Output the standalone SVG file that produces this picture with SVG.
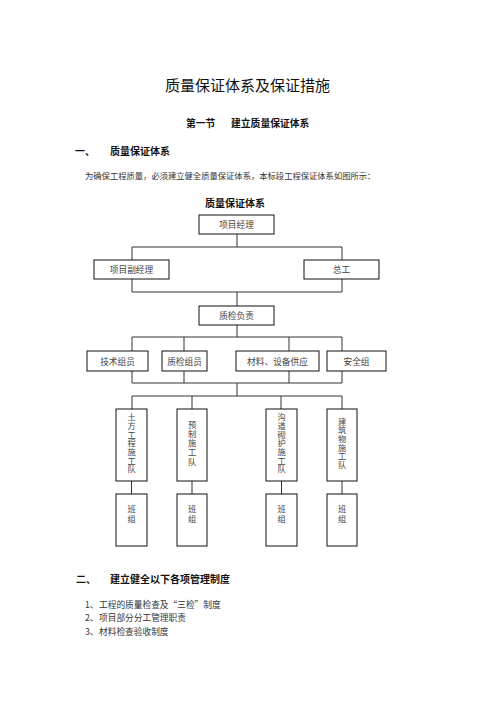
<svg xmlns="http://www.w3.org/2000/svg" width="496" height="702" viewBox="0 0 496 702">
<style>
text{font-family:"Noto Sans CJK SC","Noto Sans",sans-serif;dominant-baseline:central}
.h{fill:#111}
.b{font-weight:bold;fill:#111}
.p{fill:#333;font-size:8.3px}
.bx{fill:#fff;stroke:#111;stroke-width:1}
.t{fill:#444;font-size:8.7px;text-anchor:middle}
.v{fill:#444;font-size:8.2px;writing-mode:vertical-rl;text-anchor:start}
.l{fill:none;stroke:#333;stroke-width:1}
.li{fill:#333;font-size:8.7px}
</style>
<rect width="496" height="702" fill="#fff"/>
<text class="h" x="247.5" y="84" font-size="15" text-anchor="middle">质量保证体系及保证措施</text>
<text class="b" x="186" y="123" font-size="9.8">第一节</text>
<text class="b" x="231" y="123" font-size="9.8">建立质量保证体系</text>
<text class="b" x="75" y="150" font-size="10">一、</text>
<text class="b" x="110" y="150" font-size="10" font-weight="normal">质量保证体系</text>
<text class="p" x="85" y="175">为确保工程质量，必须建立健全质量保证体系，本标段工程保证体系如图所示：</text>
<text class="b" x="235" y="202" font-size="10" text-anchor="middle">质量保证体系</text>

<g id="connectors">
<path class="l" d="M237 234V247M132 247H342V292H132Z"/>
<path class="l" d="M237 292V306M237 325V337"/>
<path class="l" d="M132 337H342V383H132ZM184 337V383M289 337V383"/>
<path class="l" d="M237 383V396M132 396H342M132 396V409M192 396V409M281 396V409M342 396V409"/>
<path class="l" d="M131.5 481V494M192 481V494M281.5 481V494M342 481V494"/>
</g>

<g id="n-pm"><rect class="bx" x="199" y="215" width="75" height="19"/><text class="t" x="236.5" y="224.5">项目经理</text></g>
<g id="n-dpm"><rect class="bx" x="94" y="260" width="75" height="19"/><text class="t" x="131.5" y="269.5">项目副经理</text></g>
<g id="n-ce"><rect class="bx" x="304" y="260" width="75" height="19"/><text class="t" x="341.5" y="269.5">总工</text></g>
<g id="n-qc"><rect class="bx" x="199" y="306" width="75" height="19"/><text class="t" x="236.5" y="315.5">质检负责</text></g>

<g id="n-tech"><rect class="bx" x="87" y="351" width="61" height="20"/><text class="t" x="117.5" y="361">技术组员</text></g>
<g id="n-qcm"><rect class="bx" x="162" y="351" width="45" height="20"/><text class="t" x="184.5" y="361">质检组员</text></g>
<g id="n-mat"><rect class="bx" x="236" y="351" width="83" height="20"/><text class="t" x="277.5" y="361">材料、设备供应</text></g>
<g id="n-safe"><rect class="bx" x="327" y="351" width="59" height="20"/><text class="t" x="356.5" y="361">安全组</text></g>

<g id="n-t1"><rect class="bx" x="116" y="409" width="31" height="72"/><text class="v" x="131.5" y="413" letter-spacing="0.5">土方工程施工队</text></g>
<g id="n-t2"><rect class="bx" x="177" y="409" width="30" height="72"/><text class="v" x="192" y="420.5" letter-spacing="1">预制施工队</text></g>
<g id="n-t3"><rect class="bx" x="266" y="409" width="31" height="72"/><text class="v" x="281.5" y="413" letter-spacing="0.5">沟道砌护施工队</text></g>
<g id="n-t4"><rect class="bx" x="327" y="409" width="30" height="72"/><text class="v" x="342" y="417.5" letter-spacing="0.4">建筑物施工队</text></g>

<g id="n-g1"><rect class="bx" x="116" y="494" width="31" height="52"/><text class="v" x="131.5" y="505" letter-spacing="1.8">班组</text></g>
<g id="n-g2"><rect class="bx" x="177" y="494" width="30" height="52"/><text class="v" x="192" y="505" letter-spacing="1.8">班组</text></g>
<g id="n-g3"><rect class="bx" x="266" y="494" width="31" height="52"/><text class="v" x="281.5" y="505" letter-spacing="1.8">班组</text></g>
<g id="n-g4"><rect class="bx" x="327" y="494" width="30" height="52"/><text class="v" x="342" y="505" letter-spacing="1.8">班组</text></g>

<text class="b" x="76" y="578" font-size="10">二、</text>
<text class="b" x="110" y="578" font-size="10">建立健全以下各项管理制度</text>
<text class="li" x="85" y="604">1、</text><text class="li" x="99" y="604">工程的质量检查及“三检”制度</text>
<text class="li" x="85" y="617">2、</text><text class="li" x="99" y="617">项目部分分工管理职责</text>
<text class="li" x="85" y="631">3、</text><text class="li" x="99" y="631">材料检查验收制度</text>
</svg>
